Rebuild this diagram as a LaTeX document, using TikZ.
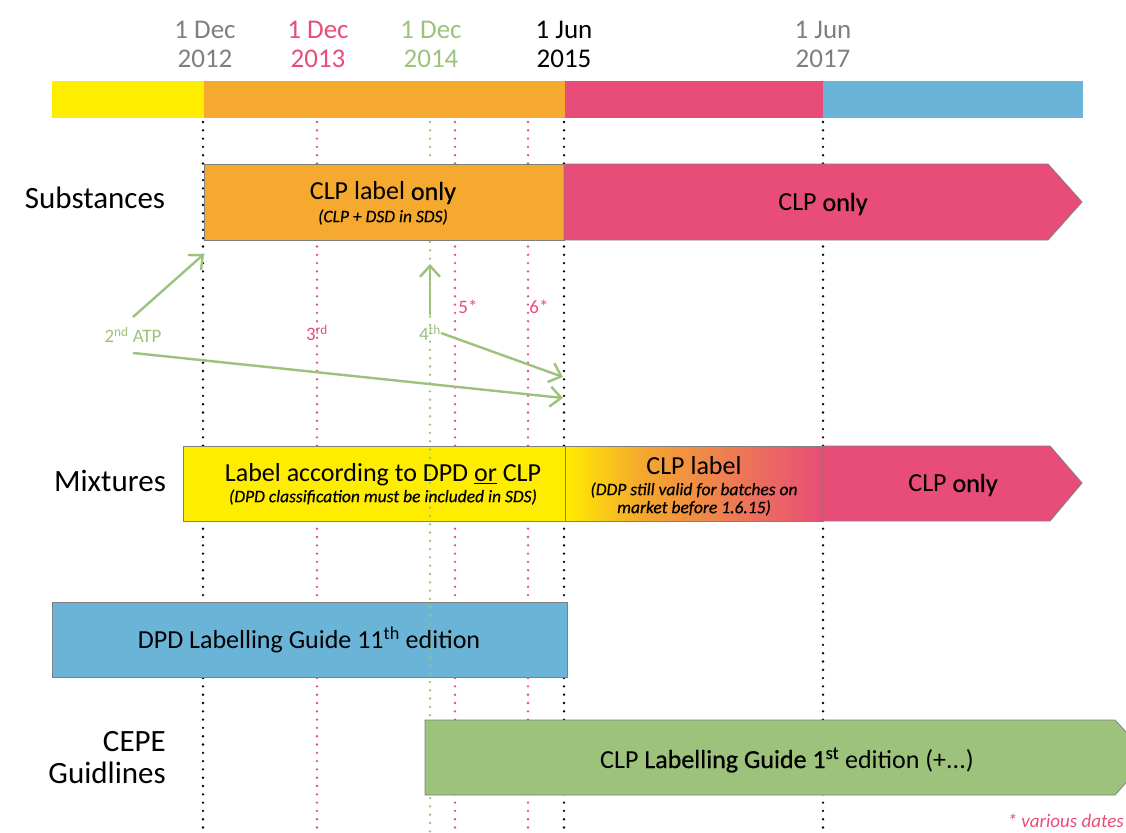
\documentclass[tikz,border=0pt]{standalone}
\usepackage{fontspec}
\setmainfont{Carlito}
\newfontfamily\gras[FakeBold=0.6]{Carlito}
\newfontfamily\remarque[ItalicFeatures={FakeBold=0.5}]{Carlito}
\usetikzlibrary{arrows.meta}
\definecolor{cjaune}{HTML}{FFED00}
\definecolor{corange}{HTML}{F5A92E}
\definecolor{crose}{HTML}{E74D78}
\definecolor{cbleu}{HTML}{6AB4D8}
\definecolor{cvert}{HTML}{9CC27C}
\definecolor{cgris}{HTML}{7F7F7F}
\begin{document}
\begin{tikzpicture}[x=1pt,y=-1pt,
	boite/.style={draw=cgris, line width=0.8pt},
	etiquette/.style={inner sep=0pt, align=center},
	date/.style={etiquette, font=\fontsize{27}{29}\selectfont},
	rang/.style={etiquette, font=\fontsize{31}{31}\selectfont},
	titre/.style={etiquette, font=\fontsize{26}{26}\selectfont},
	note/.style={etiquette, font=\fontsize{17.5}{18}\remarque\itshape},
	atp/.style={etiquette, inner ysep=10pt, font=\fontsize{19}{19}\selectfont},
	fleche/.style={draw=cvert, line width=2.4pt, -{Straight Barb[length=11pt,width=20pt]}},
	pointille/.style={line width=2.6pt, line cap=round, dash pattern=on 0pt off 8.3pt}]
	\useasboundingbox (0,0) rectangle (1126,832);
	% barre du temps
	\fill[cjaune] (52,81) rectangle (204,118);
	\fill[corange] (204,81) rectangle (565,118);
	\fill[crose] (565,81) rectangle (823,118);
	\fill[cbleu] (823,81) rectangle (1083,118);
	\path
		(205,44) node[date,text=cgris] (d12) {1 Dec\\2012}
		(318,44) node[date,text=crose] (d13) {1 Dec\\2013}
		(431,44) node[date,text=cvert] (d14) {1 Dec\\2014}
		(564,44) node[date] (j15) {1 Jun\\2015}
		(823,44) node[date,text=cgris] (j17) {1 Jun\\2017}
	;
	% pointilles
	\foreach \x in {203,564,823} \draw[pointille,black] (\x,122) -- (\x,832);
	\foreach \x in {317,455,528} \draw[pointille,crose] (\x,122) -- (\x,832);
	\draw[pointille,cvert] (430,122) -- (430,162);
	% substances
	\draw[boite,fill=corange] (204,164) rectangle (564,240);
	\draw[boite,fill=crose] (564,164) -- (1048,164) -- (1082,202) -- (1048,240) -- (564,240) -- cycle;
	% mixtures
	\draw[boite,fill=cjaune] (183,446) rectangle (565,521);
	\shade[left color=cjaune, right color=corange] (565,446) rectangle (640,521);
	\shade[left color=corange, right color=crose] (640,446) rectangle (823,521);
	\draw[boite] (565,446) rectangle (823,521);
	\draw[boite,fill=crose] (823,446) -- (1050,446) -- (1082,483) -- (1050,521) -- (823,521) -- cycle;
	% guides
	\draw[boite,fill=cbleu] (52,602) rectangle (567,677);
	\draw[pointille,cvert] (430,242) -- (430,832);
	\draw[boite,fill=cvert] (425,720) -- (1115,720) -- (1149,757) -- (1115,795) -- (425,795) -- cycle;
	\path
		(95,198) node[rang] (subst) {Substances}
		(110,481) node[rang] (mixt) {Mixtures}
		(166,758) node[rang,anchor=east,align=right,font=\fontsize{31}{32}\selectfont] (cepe) {CEPE\\Guidlines}
		(383,193) node[titre] (clp1) {CLP label {\gras only}}
		(383,217) node[note] (clp1n) {(CLP + DSD in SDS)}
		(823,204) node[titre] (clp2) {CLP {\gras only}}
		(383,475) node[titre] (dpd1) {Label according to DPD \underline{or} CLP}
		(383,497) node[note] (dpd1n) {(DPD classification must be included in SDS)}
		(694,466) node[titre] (clp3) {CLP label}
		(694,499) node[note] (clp3n) {(DDP still valid for batches on\\market before 1.6.15)}
		(953,485) node[titre] (clp4) {CLP {\gras only}}
		(309,640) node[titre] (guide1) {DPD Labelling Guide 11\textsuperscript{th} edition}
		(787,760) node[titre] (guide2) {CLP {\gras Labelling Guide 1\textsuperscript{st}} edition (+...)}
		(1124,821) node[etiquette,anchor=east,text=crose,font=\fontsize{19}{19}\selectfont\itshape] (divers) {* various dates}
	;
	% adaptations au progres technique
	\coordinate (p12) at (204,254);
	\coordinate (p14) at (430,264);
	\coordinate (p15a) at (563,377);
	\coordinate (p15b) at (563,398);
	\path
		(133,335) node[atp,text=cvert] (atp2) {2\textsuperscript{nd} ATP}
		(317,333) node[atp,text=crose] (atp3) {3\textsuperscript{rd}}
		(430,333) node[atp,text=cvert] (atp4) {4\textsuperscript{th}}
		(468,307) node[atp,text=crose] (atp5) {5*}
		(539,307) node[atp,text=crose] (atp6) {6*}
	;
	\draw[fleche] (atp2.north) -- (p12);
	\draw[fleche] (atp2.south) -- (p15b);
	\draw[fleche] (atp4.north) -- (p14);
	\draw[fleche] (atp4.east) -- (p15a);
\end{tikzpicture}
\end{document}
